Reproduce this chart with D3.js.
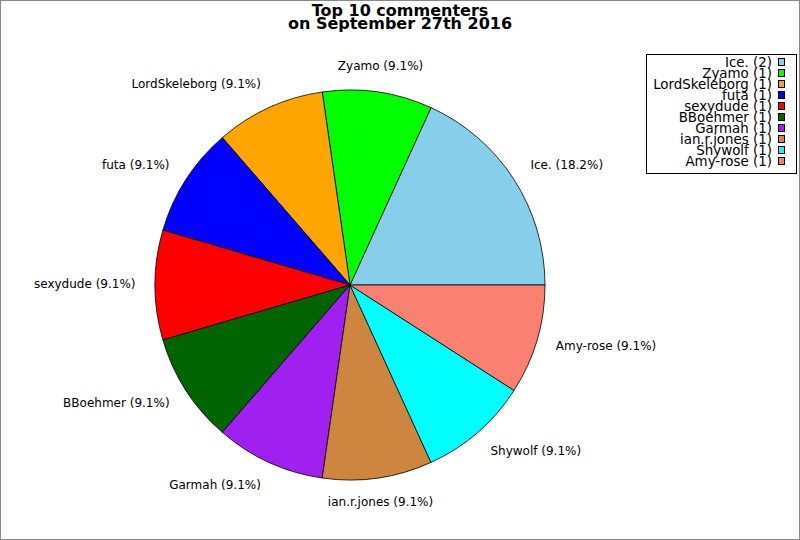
<!DOCTYPE html>
<html>
<head>
<meta charset="utf-8">
<script src="https://cdn.jsdelivr.net/npm/d3@7"></script>
<style>
  html, body { margin: 0; padding: 0; background: #fff; }
  svg { display: block; font-family: "DejaVu Sans", sans-serif; }
</style>
</head>
<body>
<svg id="chart" width="800" height="540"></svg>
<script>
// data
const names = ["Ice.", "Zyamo", "LordSkeleborg", "futa", "sexydude", "BBoehmer", "Garmah", "ian.r.jones", "Shywolf", "Amy-rose"];
const counts = [2, 1, 1, 1, 1, 1, 1, 1, 1, 1];
const colors = ["#87ceeb", "#00ff00", "#ffa500", "#0000ff", "#ff0000", "#006400", "#a020f0", "#cd853f", "#00ffff", "#fa8072"];
const titleLines = ["Top 10 commenters", "on September 27th 2016"];

const W = 800, H = 540;
const cx = 350, cy = 285, R = 195;
const svg = d3.select("#chart");

// frame
svg.append("rect")
    .attr("x", 0.5).attr("y", 0.5)
    .attr("width", W - 1).attr("height", H - 1)
    .attr("fill", "#fff")
    .attr("stroke", "#888");

// title
svg.selectAll("text.title")
    .data(titleLines)
    .join("text")
    .attr("class", "title")
    .attr("x", 400)
    .attr("y", (d, i) => 16 + i * 13)
    .attr("text-anchor", "middle")
    .attr("font-size", 16)
    .attr("font-weight", "bold")
    .text(d => d);

// pie: starts at 3 o'clock, goes counter-clockwise
const total = d3.sum(counts);
const pie = d3.pie()
    .sort(null)
    .startAngle(Math.PI / 2)
    .endAngle(Math.PI / 2 - 2 * Math.PI);
const arcs = pie(counts);
const arc = d3.arc().innerRadius(0).outerRadius(R);

const g = svg.append("g").attr("transform", `translate(${cx},${cy})`);

g.selectAll("path")
    .data(arcs)
    .join("path")
    .attr("d", arc)
    .attr("fill", (d, i) => colors[i])
    .attr("stroke", "#000")
    .attr("stroke-width", 0.8)
    .attr("stroke-linejoin", "round");

// slice labels
const pct = d3.format(".1f");
const labelR = R * 1.1;
g.selectAll("text.lbl")
    .data(arcs)
    .join("text")
    .attr("class", "lbl")
    .each(function(d, i) {
        const a = (d.startAngle + d.endAngle) / 2;
        const sx = Math.sin(a), sy = -Math.cos(a);
        const anchor = Math.abs(sx) < 0.3 ? "middle" : (sx > 0 ? "start" : "end");
        d3.select(this)
            .attr("x", sx * labelR)
            .attr("y", sy * labelR + sy * 6 - 1)
            .attr("dy", "0.35em")
            .attr("text-anchor", anchor);
    })
    .attr("font-size", 12)
    .text((d, i) => `${names[i]} (${pct(counts[i] / total * 100)}%)`);

// legend
const legend = svg.append("g");
legend.append("rect")
    .attr("x", 646.5).attr("y", 54.5)
    .attr("width", 150).attr("height", 119)
    .attr("fill", "#fff")
    .attr("stroke", "#000");

const rowY = d3.scaleLinear().domain([0, names.length - 1]).range([62, 161]);

const rows = legend.selectAll("g.row")
    .data(names)
    .join("g")
    .attr("class", "row")
    .attr("transform", (d, i) => `translate(0,${rowY(i)})`);

rows.append("text")
    .attr("x", 772)
    .attr("dy", "0.36em")
    .attr("text-anchor", "end")
    .attr("font-size", 13.4)
    .text((d, i) => `${d} (${counts[i]})`);

rows.append("rect")
    .attr("x", 778.5).attr("y", -3.5)
    .attr("width", 6).attr("height", 7)
    .attr("fill", (d, i) => colors[i])
    .attr("stroke", "#000")
    .attr("stroke-width", 1);
</script>
</body>
</html>
